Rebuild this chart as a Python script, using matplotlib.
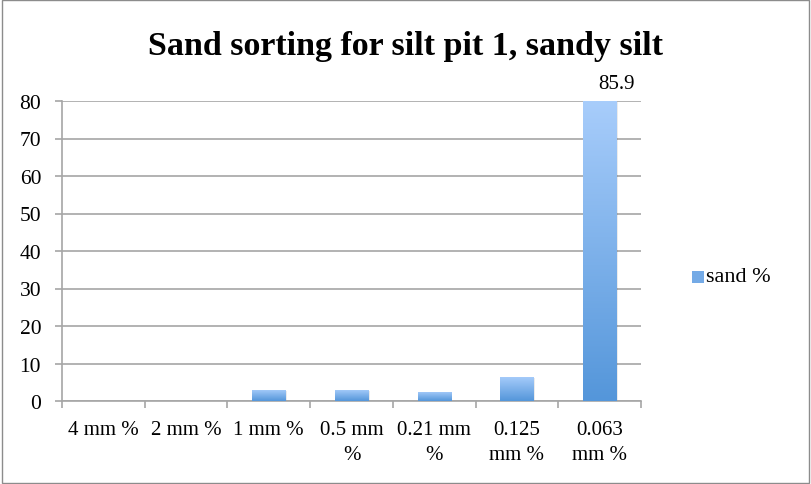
import matplotlib.pyplot as plt
import numpy as np
from matplotlib.colors import LinearSegmentedColormap
from matplotlib.patches import Rectangle

plt.rcParams['font.family'] = 'Liberation Serif'

categories = ['4 mm %', '2 mm %', '1 mm %', '0.5 mm\n%', '0.21 mm\n%', '0.125\nmm %', '0.063\nmm %']
sand = [0, 0, 3.0, 3.0, 2.5, 6.5, 85.9]
series_name = 'sand %'

fig = plt.figure(figsize=(8.11, 4.85), dpi=100)
ax = fig.add_axes([62 / 811, 1 - 402 / 485, (641 - 62) / 811, 300 / 485])

x = np.arange(len(categories))
ymax = 80
axis_grey = '#a6a6a6'

# bars drawn invisible, then filled with a vertical gradient clipped to each bar
grad = LinearSegmentedColormap.from_list('bar', ['#5496da', '#a8cdfb'])
bars = ax.bar(x, sand, width=0.4, color='none', edgecolor='none', zorder=3)
for b, v in zip(bars, sand):
    if v <= 0:
        continue
    x0 = b.get_x()
    w = b.get_width()
    top = min(v, ymax)
    # soft shadow
    ax.add_patch(Rectangle((x0 + 0.02, -0.3), w, top, facecolor='#000000', alpha=0.08,
                           edgecolor='none', zorder=2))
    img = ax.imshow(np.linspace(0, 1, 256).reshape(-1, 1), cmap=grad, origin='lower',
                    extent=(x0, x0 + w, 0, top), aspect='auto', zorder=3)
    img.set_clip_path(b)

ax.set_xlim(-0.5, len(categories) - 0.5)
ax.set_ylim(0, ymax)

ax.text(x[-1] + 0.2, ymax + 2.2, f'{sand[-1]}', ha='center', va='bottom', fontsize=15)

ax.set_yticks(np.arange(0, 81, 10))
ax.yaxis.grid(True, color=axis_grey, linewidth=1.2, zorder=0)
ax.set_axisbelow(True)
ax.set_xticks(np.arange(-0.5, len(categories), 1))
ax.set_xticklabels([])
ax.set_xticks(x, minor=True)
ax.set_xticklabels(categories, minor=True, fontsize=15, linespacing=1.4)
ax.tick_params(axis='x', which='minor', length=0, pad=14)
ax.tick_params(axis='x', which='major', length=5, color=axis_grey, width=1.2)
ax.tick_params(axis='y', length=5, color=axis_grey, width=1.2, labelsize=15.5, pad=10)
for s in ['top', 'right']:
    ax.spines[s].set_visible(False)
for s in ['bottom', 'left']:
    ax.spines[s].set_color(axis_grey)
    ax.spines[s].set_linewidth(1.2)

fig.text(0.5, 1 - 47 / 485, 'Sand sorting for silt pit 1, sandy silt', ha='center', va='center',
         fontsize=24.5, fontweight='bold')

# legend
fig.patches.append(Rectangle((692 / 811, 1 - 284 / 485), 12 / 811, 12 / 485,
                             transform=fig.transFigure, facecolor='#74aae6', edgecolor='none'))
fig.text(706 / 811, 1 - 278 / 485, series_name, ha='left', va='center', fontsize=16)

# outer frame
fig.patches.append(Rectangle((0.002, 0.003), 0.995, 0.994, transform=fig.transFigure,
                             fill=False, edgecolor='#8c8c8c', linewidth=1))

fig.savefig('out.png', dpi=100)
